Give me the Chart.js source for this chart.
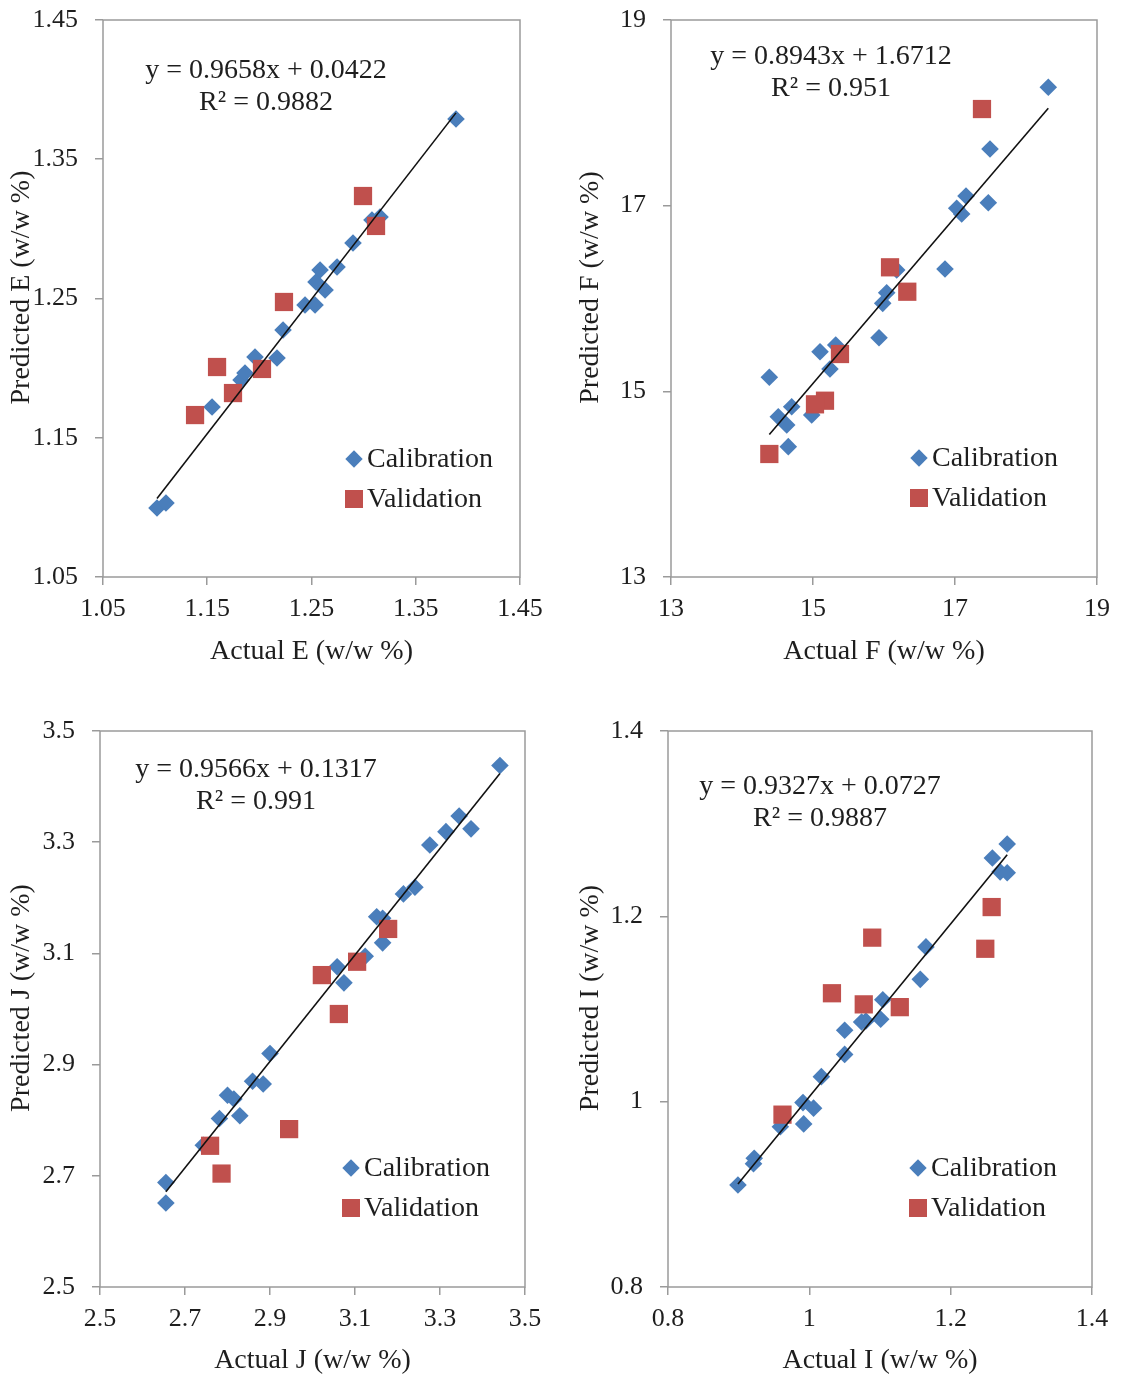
<!DOCTYPE html>
<html><head><meta charset="utf-8">
<script src="https://cdn.jsdelivr.net/npm/chart.js@4.4.0/dist/chart.umd.min.js"></script>
<style>
html,body{margin:0;padding:0;background:#fff;}
#wrap{position:relative;width:1122px;height:1378px;overflow:hidden;}
canvas{position:absolute;}
</style></head><body>
<div id="wrap">
<canvas id="cE" width="561" height="719" style="left:0;top:-30px"></canvas>
<canvas id="cF" width="561" height="719" style="left:561px;top:-30px"></canvas>
<canvas id="cJ" width="561" height="719" style="left:0;top:659px"></canvas>
<canvas id="cI" width="561" height="719" style="left:561px;top:659px"></canvas>
</div>
<script>
// ---------------- DATA ----------------
// Panel E
const calE_actual = [1.1018,1.1104,1.1546,1.1824,1.1862,1.1958,1.2169,1.2227,1.2438,1.2534,1.2582,1.2543,1.2630,1.2745,1.2898,1.3080,1.3157,1.3886];
const calE_pred   = [1.0996,1.1031,1.1721,1.1915,1.1965,1.2080,1.2073,1.2274,1.2453,1.2453,1.2705,1.2618,1.2561,1.2726,1.2899,1.3064,1.3085,1.3789];
const valE_actual = [1.1383,1.1594,1.1747,1.2025,1.2236,1.2994,1.3119];
const valE_pred   = [1.1663,1.2008,1.1821,1.1994,1.2475,1.3236,1.3021];
const ticksE = [1.05,1.15,1.25,1.35,1.45];
const tickLabelsE = ['1.05','1.15','1.25','1.35','1.45'];
const eqE = ['y = 0.9658x + 0.0422','R² = 0.9882'];
const slopeE = 0.9658, interceptE = 0.0422;

// Panel F
const calF_actual = [18.314,17.493,17.469,17.155,17.024,17.094,16.859,16.179,16.038,15.982,15.930,15.320,15.099,15.239,14.385,14.700,14.511,14.630,14.982,14.652];
const calF_pred   = [18.275,17.610,17.032,17.104,16.972,16.910,16.318,16.307,16.062,15.948,15.578,15.499,15.427,15.240,15.151,14.834,14.727,14.637,14.745,14.404];
const valF_actual = [17.380,16.085,16.328,15.380,15.169,15.028,14.385];
const valF_pred   = [18.041,16.336,16.073,15.402,14.899,14.860,14.325];
const ticksF = [13,15,17,19];
const tickLabelsF = ['13','15','17','19'];
const eqF = ['y = 0.8943x + 1.6712','R² = 0.951'];
const slopeF = 0.8943, interceptF = 1.6712;

// Panel J
const calJ_actual = [3.441,3.345,3.373,3.314,3.276,3.241,3.214,3.151,3.165,3.165,3.124,3.058,3.074,2.900,2.859,2.884,2.800,2.815,2.781,2.829,2.743,2.655,2.655];
const calJ_pred   = [3.438,3.347,3.324,3.319,3.295,3.219,3.207,3.166,3.163,3.119,3.095,3.076,3.047,2.920,2.870,2.865,2.845,2.838,2.803,2.808,2.755,2.688,2.651];
const valJ_actual = [3.178,3.105,3.022,3.062,2.945,2.759,2.786];
const valJ_pred   = [3.144,3.085,3.061,2.991,2.784,2.754,2.704];
const ticksJ = [2.5,2.7,2.9,3.1,3.3,3.5];
const tickLabelsJ = ['2.5','2.7','2.9','3.1','3.3','3.5'];
const eqJ = ['y = 0.9566x + 0.1317','R² = 0.991'];
const slopeJ = 0.9566, interceptJ = 0.1317;

// Panel I
const calI_actual = [1.280,1.259,1.270,1.280,1.165,1.157,1.104,1.101,1.080,1.074,1.050,1.050,1.017,0.991,1.006,0.992,0.959,0.922,0.921,0.899];
const calI_pred   = [1.278,1.263,1.248,1.247,1.167,1.132,1.110,1.089,1.087,1.086,1.077,1.051,1.027,0.999,0.993,0.976,0.973,0.939,0.933,0.910];
const valI_actual = [1.258,1.249,1.089,1.032,1.077,1.128,0.962];
const valI_pred   = [1.210,1.165,1.177,1.117,1.105,1.102,0.986];
const ticksI = [0.8,1.0,1.2,1.4];
const tickLabelsI = ['0.8','1','1.2','1.4'];
const eqI = ['y = 0.9327x + 0.0727','R² = 0.9887'];
const slopeI = 0.9327, interceptI = 0.0727;

const seriesNames = ['Calibration','Validation'];

// ---------------- STYLE / LAYOUT ----------------
const W = 561, H = 719, OY = 30; // canvas extends 30px above its panel
const BLUE = '#4A7EBB', RED = '#C0504D', GRAY = '#9a9a9a', TXT = '#1e1e1e';
const FAM = '"Liberation Serif","Times New Roman",serif';

function pts(xs, ys){ return xs.map((x,i)=>({x:x, y:ys[i]})); }
function trendPts(xs, m, b){
  const lo = Math.min(...xs), hi = Math.max(...xs);
  return [{x:lo, y:m*lo+b},{x:hi, y:m*hi+b}];
}

const extras = {
  id:'extras',
  beforeDatasetsDraw(chart){
    const a = chart.chartArea, ctx = chart.ctx;
    ctx.save();
    ctx.strokeStyle = GRAY; ctx.lineWidth = 1.5;
    ctx.strokeRect(a.left, a.top, a.right - a.left, a.bottom - a.top);
    ctx.restore();
  },
  afterDraw(chart){
    const o = chart.options.plugins.extras, ctx = chart.ctx, a = chart.chartArea;
    ctx.save();
    ctx.fillStyle = TXT;
    ctx.font = '28px ' + FAM;
    ctx.textAlign = 'center'; ctx.textBaseline = 'middle';
    ctx.fillText(o.eq[0], o.eqX, o.eqY + OY);
    ctx.fillText(o.eq[1], o.eqX, o.eqY + OY + 32);
    // y title
    ctx.save();
    ctx.translate(o.yTitleX, (a.top + a.bottom)/2 + o.yTitleDy);
    ctx.rotate(-Math.PI/2);
    ctx.fillText(o.yTitle, 0, 0);
    ctx.restore();
    // legend
    ctx.textAlign = 'left';
    const lx = o.legX, ly = o.legY + OY;
    ctx.fillStyle = BLUE;
    ctx.beginPath();
    ctx.moveTo(lx, ly - 8.7); ctx.lineTo(lx + 8.7, ly); ctx.lineTo(lx, ly + 8.7); ctx.lineTo(lx - 8.7, ly); ctx.closePath();
    ctx.fill();
    ctx.fillStyle = RED;
    ctx.fillRect(lx - 9, ly + 40 - 9, 18, 18);
    ctx.fillStyle = TXT;
    ctx.fillText(seriesNames[0], lx + 13, ly + 1);
    ctx.fillText(seriesNames[1], lx + 13, ly + 41);
    ctx.restore();
  }
};

function makeChart(id, d, lay){
  const tickFont = {family:FAM, size:26};
  return new Chart(document.getElementById(id), {
    type:'scatter',
    data:{datasets:[
      {label:'trend', data:trendPts(d.calX, d.m, d.b), showLine:true, borderColor:'#111', borderWidth:1.6, pointRadius:0, fill:false, order:0},
      {label:seriesNames[1], data:pts(d.valX, d.valY), pointStyle:'rect', pointRadius:12.9, backgroundColor:RED, borderColor:RED, borderWidth:0, order:1},
      {label:seriesNames[0], data:pts(d.calX, d.calY), pointStyle:'rectRot', pointRadius:8.8, backgroundColor:BLUE, borderColor:BLUE, borderWidth:0, order:2}
    ]},
    options:{
      responsive:false, animation:false, events:[],
      layout:{autoPadding:false, padding:{left:0, top:lay.top + OY, right:W - lay.right, bottom:0}},
      plugins:{
        legend:{display:false}, tooltip:{enabled:false},
        extras:{eq:d.eq, eqX:lay.eqX, eqY:lay.eqY, legX:lay.legX, legY:lay.legY, yTitle:d.yTitle, yTitleX:lay.yTitleX, yTitleDy:-11}
      },
      scales:{
        x:{type:'linear', min:d.xTicks[0], max:d.xTicks[d.xTicks.length-1],
          afterBuildTicks:s=>{ s.ticks = d.xTicks.map(v=>({value:v})); },
          afterFit:s=>{ s.height = H - (lay.bottom + OY); },
          ticks:{callback:(v,i)=>d.xLabels[i], font:tickFont, color:TXT, padding:9, maxRotation:0, autoSkip:false},
          grid:{display:true, drawOnChartArea:false, drawTicks:true, tickLength:8, color:GRAY, lineWidth:1.5},
          border:{display:false},
          title:{display:true, text:d.xTitle, color:TXT, font:{family:FAM, size:28}, padding:{top:0, bottom:lay.xTitlePad}}
        },
        y:{type:'linear', min:d.yTicks[0], max:d.yTicks[d.yTicks.length-1],
          afterBuildTicks:s=>{ s.ticks = d.yTicks.map(v=>({value:v})); },
          afterFit:s=>{ s.width = lay.left; },
          ticks:{callback:(v,i)=>d.yLabels[i], font:tickFont, color:TXT, padding:17, autoSkip:false},
          grid:{display:true, drawOnChartArea:false, drawTicks:true, tickLength:8, color:GRAY, lineWidth:1.5},
          border:{display:false},
          title:{display:false}
        }
      }
    },
    plugins:[extras]
  });
}

makeChart('cE',
  {calX:calE_actual, calY:calE_pred, valX:valE_actual, valY:valE_pred, m:slopeE, b:interceptE,
   xTicks:ticksE, xLabels:tickLabelsE, yTicks:ticksE, yLabels:tickLabelsE, eq:eqE,
   xTitle:'Actual E (w/w %)', yTitle:'Predicted E (w/w %)'},
  {left:103, right:520, top:20, bottom:577, xTitlePad:21, yTitleX:22, eqX:266, eqY:71, legX:354, legY:459});

makeChart('cF',
  {calX:calF_actual, calY:calF_pred, valX:valF_actual, valY:valF_pred, m:slopeF, b:interceptF,
   xTicks:ticksF, xLabels:tickLabelsF, yTicks:ticksF, yLabels:tickLabelsF, eq:eqF,
   xTitle:'Actual F (w/w %)', yTitle:'Predicted F (w/w %)'},
  {left:110, right:536, top:20, bottom:577, xTitlePad:21, yTitleX:30, eqX:270, eqY:57, legX:358, legY:458});

makeChart('cJ',
  {calX:calJ_actual, calY:calJ_pred, valX:valJ_actual, valY:valJ_pred, m:slopeJ, b:interceptJ,
   xTicks:ticksJ, xLabels:tickLabelsJ, yTicks:ticksJ, yLabels:tickLabelsJ, eq:eqJ,
   xTitle:'Actual J (w/w %)', yTitle:'Predicted J (w/w %)'},
  {left:100, right:525, top:42, bottom:598, xTitlePad:1, yTitleX:22, eqX:256, eqY:81, legX:351, legY:479});

makeChart('cI',
  {calX:calI_actual, calY:calI_pred, valX:valI_actual, valY:valI_pred, m:slopeI, b:interceptI,
   xTicks:ticksI, xLabels:tickLabelsI, yTicks:ticksI, yLabels:tickLabelsI, eq:eqI,
   xTitle:'Actual I (w/w %)', yTitle:'Predicted I (w/w %)'},
  {left:107, right:531, top:42, bottom:598, xTitlePad:1, yTitleX:30, eqX:259, eqY:98, legX:357, legY:479});
</script>
</body></html>
